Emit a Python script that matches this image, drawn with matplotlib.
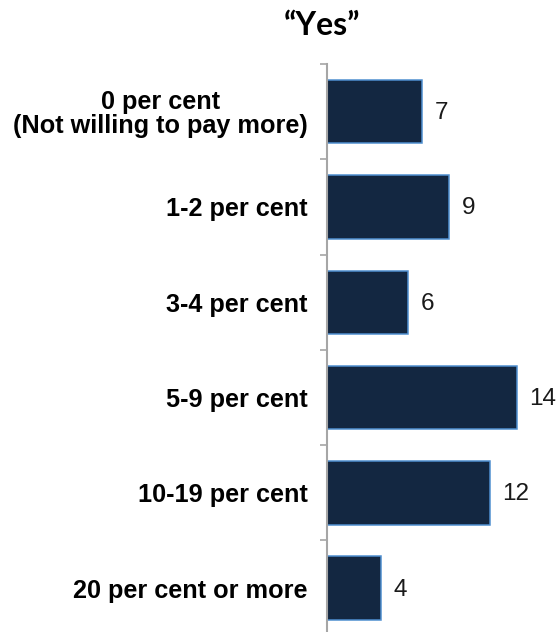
import numpy as np
import matplotlib.pyplot as plt

categories = [
    "0 per cent\n(Not willing to pay more)",
    "1-2 per cent",
    "3-4 per cent",
    "5-9 per cent",
    "10-19 per cent",
    "20 per cent or more",
]
values = [7, 9, 6, 14, 12, 4]
title = "\u201cYes\u201d"

W, H = 558, 632
fig = plt.figure(figsize=(W / 100, H / 100), dpi=100)

# axes box in pixels: spine at x=327, rows 95.3 px tall starting at y=64
left, top = 327, 64
row_h = 95.3
n = len(categories)
bottom_px = top + n * row_h
ax = fig.add_axes([left / W, (H - bottom_px) / H, (W - left) / W, n * row_h / H])

px_per_unit = 13.57
y = np.arange(n)
ax.barh(y, values, height=0.665, color="#132741", edgecolor="#4F8FD0", linewidth=1.1)

for yi, v in zip(y, values):
    ax.annotate(str(v), (v, yi), xytext=(9, -1), textcoords="offset points",
                va="center", ha="left", fontsize=17.5, family="Liberation Sans",
                color="#1a1a1a")

ax.set_xlim(0, (W - left) / px_per_unit)
ax.set_ylim(n - 0.5, -0.5)

for s in ["top", "right", "bottom"]:
    ax.spines[s].set_visible(False)
ax.spines["left"].set_color("#A6A6A6")
ax.spines["left"].set_linewidth(1.5)
ax.set_xticks([])

ax.set_yticks(y)
ax.set_yticklabels(categories, fontsize=18.2, fontweight="bold",
                   family="Liberation Sans", linespacing=1.0)
for lbl in ax.get_yticklabels():
    lbl.set_multialignment("center")
ax.tick_params(axis="y", which="major", length=0, pad=14)
ax.set_yticks(np.arange(n + 1) - 0.5, minor=True)
ax.tick_params(axis="y", which="minor", length=5, width=1.2,
               color="#A6A6A6", direction="out")

fig.text(322 / W, 1 - 35 / H, title, ha="center", va="baseline",
         fontsize=23, fontweight="bold", family="Lato")

fig.savefig("out.png", dpi=100)
